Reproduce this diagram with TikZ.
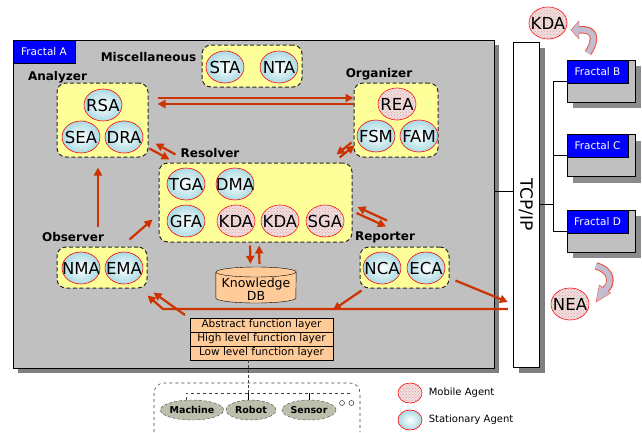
\documentclass[tikz,border=0pt]{standalone}
\usepackage{fontspec}
\setmainfont{DejaVu Sans}
\usetikzlibrary{arrows.meta,shapes.geometric,positioning,shadows,patterns}

\definecolor{panelgray}{RGB}{192,192,192}
\definecolor{notebg}{RGB}{255,255,153}
\definecolor{linkred}{RGB}{204,51,0}
\definecolor{peach}{RGB}{255,204,153}
\definecolor{mobilebg}{RGB}{242,222,222}
\definecolor{mobiledot}{RGB}{214,160,160}
\definecolor{stationbg}{RGB}{170,218,226}
\definecolor{fractalblue}{RGB}{0,0,255}
\definecolor{devicebg}{RGB}{190,190,172}
\definecolor{turnbg}{RGB}{196,188,208}
\definecolor{turnline}{RGB}{235,80,60}

\tikzset{
  agent/.style={ellipse, draw=red, line width=0.6pt, minimum width=38pt, minimum height=32pt,
    inner xsep=-6pt, inner ysep=0pt, font=\fontsize{16.5}{16.5}\selectfont},
  mobile/.style={agent, fill=mobilebg, postaction={pattern=crosshatch dots, pattern color=mobiledot}},
  still/.style={agent, inner color=white, outer color=stationbg},
  group/.style={draw=black!85, dash pattern=on 4pt off 2.5pt, line width=1pt,
    fill=notebg, rounded corners=9pt},
  title/.style={font=\bfseries\fontsize{12}{12}\selectfont},
  link/.style={draw=linkred, line width=2.2pt, -{Triangle[length=8pt,width=8pt]}},
  layer/.style={draw, fill=peach, minimum width=143pt, minimum height=14pt,
    inner sep=0pt, outer sep=0pt, font=\fontsize{10.5}{10.5}\selectfont},
  fractal/.style={draw, fill=panelgray, minimum width=68pt, minimum height=42pt,
    drop shadow={shadow xshift=6pt, shadow yshift=-6pt, fill=black!45, opacity=1}},
  tag/.style={fill=fractalblue, draw=black, text=white, inner sep=0pt,
    minimum height=23pt, font=\fontsize{10.5}{10.5}\selectfont},
  device/.style={ellipse, draw=black!70, densely dashed, fill=devicebg,
    minimum width=54pt, minimum height=20pt, inner sep=0pt,
    font=\bfseries\fontsize{9.5}{9.5}\selectfont},
}

\begin{document}
\begin{tikzpicture}[x=1pt,y=-1pt]
\useasboundingbox (0,0) rectangle (642,432);

% frames
\node[draw, fill=panelgray, minimum width=481pt, minimum height=328pt,
  drop shadow={shadow xshift=5pt, shadow yshift=-5pt, fill=black!50, opacity=1}] (fracA) at (253.5,204) {};
\node[tag, minimum width=62pt, anchor=north west] (tagA) at (fracA.north west) {Fractal A};
\node[draw, fill=white, minimum width=26pt, minimum height=325pt,
  drop shadow={shadow xshift=6pt, shadow yshift=-6pt, fill=black!50, opacity=1}] (tcp) at (526,204.5) {};
\node[rotate=-90, font=\fontsize{17}{17}\selectfont] (tcpT) at (tcp.center) {TCP/IP};

\node[fractal] (fracB) at (601,81) {};
\node[tag, minimum width=61pt, anchor=north west] (tagB) at (fracB.north west) {Fractal B};
\node[fractal] (fracC) at (601,155.5) {};
\node[tag, minimum width=61pt, anchor=north west] (tagC) at (fracC.north west) {Fractal C};
\node[fractal] (fracD) at (601,231) {};
\node[tag, minimum width=61pt, anchor=north west] (tagD) at (fracD.north west) {Fractal D};

% groups
\node[group, minimum width=100pt, minimum height=42pt] (misc) at (252,66) {};
\node[group, minimum width=91pt, minimum height=74pt] (analyzer) at (102.5,120) {};
\node[group, minimum width=84pt, minimum height=74pt] (organizer) at (396,120) {};
\node[group, minimum width=193pt, minimum height=79pt] (resolver) at (255.5,202.5) {};
\node[group, minimum width=90pt, minimum height=41pt] (observer) at (102,267.5) {};
\node[group, minimum width=89pt, minimum height=41pt] (reporter) at (404.5,267.5) {};

\node[title] (miscT) at (148.5,57) {Miscellaneous};
\node[title] (analyzerT) at (57.5,77) {Analyzer};
\node[title] (organizerT) at (379,74) {Organizer};
\node[title] (resolverT) at (210,153) {Resolver};
\node[title] (observerT) at (73,237) {Observer};
\node[title] (reporterT) at (385,237) {Reporter};

% agents
\node[still] (sta) at (225,67) {STA};
\node[still] (nta) at (279,67) {NTA};
\node[still] (rsa) at (103,105) {RSA};
\node[still] (sea) at (81,137) {SEA};
\node[still] (dra) at (124,137) {DRA};
\node[mobile] (rea) at (397,104) {REA};
\node[still] (fsm) at (376,136) {FSM};
\node[still] (fam) at (419,136) {FAM};
\node[still] (tga) at (186,184) {TGA};
\node[still] (dma) at (235,184) {DMA};
\node[still] (gfa) at (186,221) {GFA};
\node[mobile] (kda1) at (236,221) {KDA};
\node[mobile] (kda2) at (280,221) {KDA};
\node[mobile] (sga) at (325,221) {SGA};
\node[still] (nma) at (81,268) {NMA};
\node[still] (ema) at (124,268) {EMA};
\node[still] (nca) at (382,268) {NCA};
\node[still] (eca) at (426,268) {ECA};
\node[mobile] (kdaOut) at (548,23) {KDA};
\node[mobile] (nea) at (570,304) {NEA};

% knowledge base and layers
\node[minimum width=80pt, minimum height=44pt, inner sep=0pt] (kdb) at (256,289) {};
\draw[fill=peach] ([yshift=17pt]kdb.west) -- ([yshift=-9pt]kdb.west) arc (180:0:40 and 5)
  -- ([yshift=17pt]kdb.east) arc (0:-180:40 and 5) -- cycle;
\draw ([yshift=17pt]kdb.west) arc (180:0:40 and 5);
\node[align=center, font=\fontsize{12.5}{13}\selectfont] (kdbT) at (kdb.center) {Knowledge\\DB};
\node[layer] (layA) at (261.5,325) {Abstract function layer};
\node[layer, below=0pt of layA] (layH) {High level function layer};
\node[layer, below=0pt of layH] (layL) {Low level function layer};

% agent links
\draw[link, shorten <=9pt] ([yshift=22pt]analyzer.east) -- ([yshift=22pt]organizer.west);
\draw[link, shorten >=9pt] ([yshift=16pt]organizer.west) -- ([yshift=16pt]analyzer.east);
\draw[link] ([xshift=1pt,yshift=9pt]analyzer.south east) -- ([xshift=11pt,yshift=3pt]resolver.north west);
\draw[link] ([xshift=17pt,yshift=8pt]resolver.north west) -- ([xshift=7pt,yshift=14pt]analyzer.south east);
\draw[link] ([xshift=-13pt,yshift=5pt]resolver.north east) -- ([xshift=1pt,yshift=12pt]organizer.south west);
\draw[link] ([xshift=-2pt,yshift=15pt]organizer.south west) -- ([xshift=-16pt,yshift=8pt]resolver.north east);
\draw[link] ([xshift=4pt,yshift=-10.5pt]resolver.east) -- ([xshift=-18.5pt,yshift=20pt]reporter.north);
\draw[link] ([xshift=-17.5pt,yshift=26pt]reporter.north) -- ([xshift=5pt,yshift=-4.5pt]resolver.east);
\draw[link, shorten <=20pt, shorten >=10pt] ([xshift=-4pt]observer.north) -- ([xshift=-4.5pt]analyzer.south);
\draw[link] ([xshift=-18pt,yshift=7pt]observer.north east) -- ([xshift=-6pt,yshift=23pt]resolver.south west);
\draw[link, shorten <=3pt, shorten >=3pt] ([xshift=-5.5pt]resolver.south) -- ([xshift=-5.5pt]kdb.north);
\draw[link, shorten <=3pt, shorten >=3pt] ([xshift=3.5pt]kdb.north) -- ([xshift=3.5pt]resolver.south);

% bus inside fractal A
\coordinate (tap) at ([xshift=-5pt,yshift=-104.5pt]tcp.west);
\coordinate (bend) at ([xshift=-27pt,yshift=9pt]layA.north west);
\draw[link] (tap) -- (bend) -- ([yshift=-7pt]observer.south east);
\draw[link] ([xshift=-5pt,yshift=3pt]layA.north west) -- ([xshift=6pt,yshift=-4pt]observer.south east);
\draw[link] ([xshift=2pt,yshift=-2pt]reporter.south west) -- ([yshift=8pt]layA.north east);
\draw[link] ([xshift=6pt,yshift=8pt]reporter.south east) -- ([xshift=-5pt,yshift=-97.5pt]tcp.west);

% network
\draw (fracA.east) ++(0,-13) coordinate (fa) -- (fa -| tcp.west);
\draw (tcp.east) -- ++(14,0) coordinate (hub);
\draw (fracB.west) -- (fracB.west -| hub) -- (fracD.west -| hub) -- (fracD.west);
\draw (fracC.west) -- (fracC.west -| hub);

% devices
\node[device] (machine) at (192,410) {Machine};
\node[device, minimum width=50pt] (robot) at (251,410) {Robot};
\node[device] (sensor) at (309,410) {Sensor};
\node[circle, draw, inner sep=0pt, minimum size=5pt] (more1) at (342,403) {};
\node[circle, draw, inner sep=0pt, minimum size=5pt, right=4pt of more1] (more2) {};
\draw[black!75, line width=0.6pt, dashed, rounded corners=10pt] (154,432) -- (154,383) -- (360,383) -- (360,432);
\draw[black!75, line width=0.6pt, densely dashed] ([xshift=-13.5pt]layL.south) -- ++(0,33) coordinate (rail);
\draw[black!75, line width=0.6pt, dashed] ([xshift=-6pt]machine.north) |- ([xshift=101pt]rail) -- ++(0,4);
\draw (rail) -- (robot.north -| rail);
\draw (sensor.north) -- (sensor.north |- rail);

% legend
\node[mobile, minimum width=24pt, minimum height=20pt] (keyM) at (410,393) {};
\node[still, minimum width=24pt, minimum height=20pt] (keyS) at (410,420) {};
\node[right=3pt of keyM, font=\fontsize{10}{10}\selectfont] (keyMT) {Mobile Agent};
\node[right=3pt of keyS, font=\fontsize{10}{10}\selectfont] (keyST) {Stationary Agent};

% migration arrows
\draw[turnline, line width=7.5pt] (588,53) .. controls (598,38) and (594,28) .. (579,30);
\filldraw[draw=turnline, fill=turnbg] (571,30) -- (579,21) -- (579,39) -- cycle;
\draw[turnbg, line width=5.5pt] (588,53) .. controls (598,38) and (594,28) .. (578,30);
\draw[turnline, line width=7.5pt] (596,266) .. controls (612,270) and (613,284) .. (605,290);
\filldraw[draw=turnline, fill=turnbg] (596,302) -- (599.3,285) -- (610.7,293) -- cycle;
\draw[turnbg, line width=5.5pt] (596,266) .. controls (612,270) and (613,284) .. (604,291);
\end{tikzpicture}
\end{document}
